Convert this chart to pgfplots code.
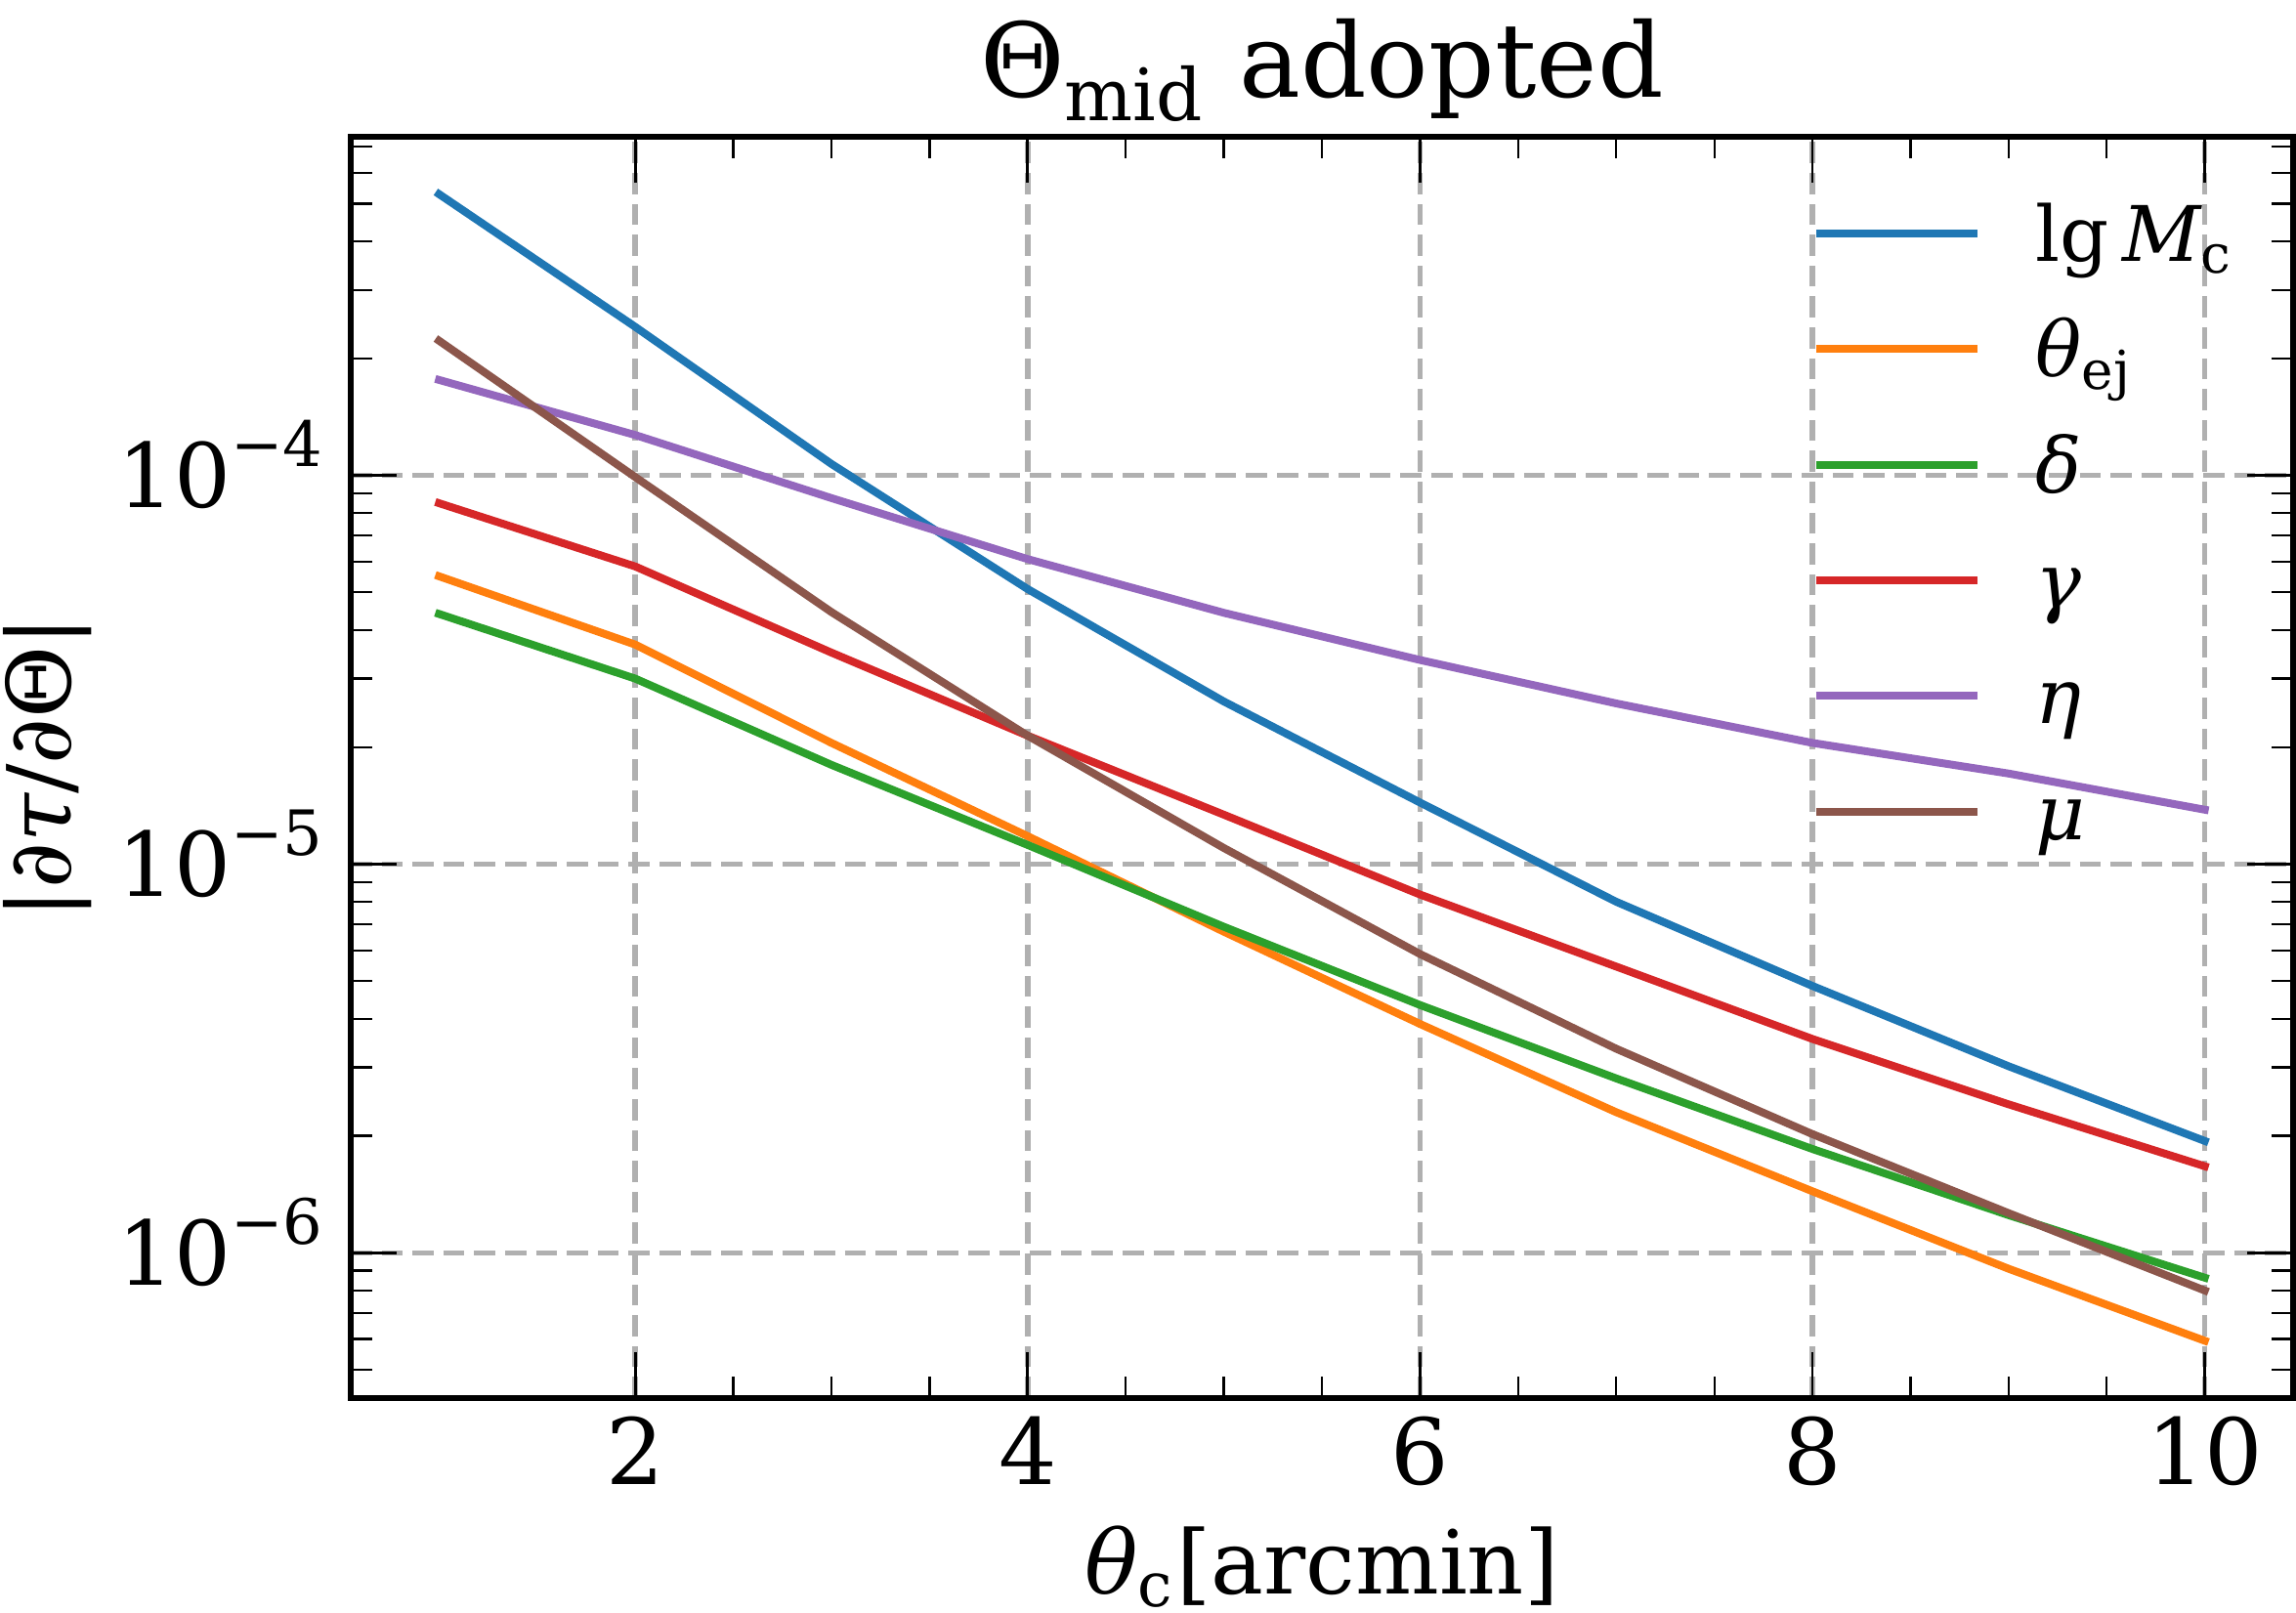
\documentclass[border=0pt]{standalone}
\usepackage{fontspec}
\setmainfont{DejaVu Serif}
\usepackage{amsmath}
\usepackage{pgfplots}
\pgfplotsset{compat=1.18}
\definecolor{c0}{HTML}{1F77B4}
\definecolor{c1}{HTML}{FF7F0E}
\definecolor{c2}{HTML}{2CA02C}
\definecolor{c3}{HTML}{D62728}
\definecolor{c4}{HTML}{9467BD}
\definecolor{c5}{HTML}{8C564B}
\definecolor{gridgray}{HTML}{B0B0B0}
\newcommand{\gi}[1]{\text{\itshape #1}}
\begin{document}
\begin{tikzpicture}
\begin{axis}[
  at={(0pt,0pt)}, anchor=south west,
  scale only axis, width=248.5pt, height=161.375pt,
  ymode=log,
  xmin=0.55, xmax=10.45, ymin=4.23e-7, ymax=7.43e-4,
  xtick={2,4,6,8,10}, minor x tick num=3,
  ytick={1e-6,1e-5,1e-4},
  yticklabels={$\text{10}^{\text{−6}}$,$\text{10}^{\text{−5}}$,$\text{10}^{\text{−4}}$},
  minor ytick={5e-7,6e-7,7e-7,8e-7,9e-7,2e-6,3e-6,4e-6,5e-6,6e-6,7e-6,8e-6,9e-6,2e-5,3e-5,4e-5,5e-5,6e-5,7e-5,8e-5,9e-5,2e-4,3e-4,4e-4,5e-4,6e-4,7e-4},
  tick pos=both, xticklabel pos=lower, yticklabel pos=left,
  tick align=inside,
  major tick length=5.9pt, minor tick length=2.75pt,
  major tick style={line width=0.35pt, black},
  minor tick style={line width=0.28pt, black},
  axis line style={line width=0.75pt, black},
  xmajorgrids, ymajorgrids,
  major grid style={line width=0.7pt, color=gridgray, dash pattern=on 2.7pt off 1.25pt},
  /pgf/number format/assume math mode=true,
  xticklabel style={font=\fontsize{11.7}{14}\selectfont, anchor=base, yshift=-11.1pt},
  yticklabel style={font=\fontsize{11.4}{14}\selectfont, anchor=base east, inner sep=0pt, xshift=-2.9pt, yshift=-4.15pt},
  title={$\text{Θ}_{\text{mid}}$ adopted},
  title style={at={(axis description cs:0.5,1)}, anchor=base, yshift=-1pt, font=\fontsize{13.2}{16}\selectfont},
  xlabel={$\gi{θ}_{\text{c}}$[arcmin]},
  xlabel style={at={(axis description cs:0.5,0)}, anchor=base, yshift=-25pt, font=\fontsize{11.3}{14}\selectfont},
  ylabel={|{\itshape ∂τ}/{\itshape ∂}Θ|},
  ylabel style={at={(axis description cs:-0.156,0.5)}, anchor=center, font=\fontsize{11.3}{14}\selectfont},
  legend style={draw=none, fill=none, inner sep=0pt, outer sep=0pt,
    at={(axis description cs:0.7525,0.951)}, anchor=north west,
    row sep=3.8pt, font=\fontsize{9.8}{11}\selectfont,
    nodes={inner sep=0pt, text height=8pt, text depth=3pt},
    cells={anchor=west},
    /tikz/every odd column/.append style={column sep=7pt}},
  legend image code/.code={\draw[#1, line cap=butt] (0pt,1.06pt) -- (20.6pt,1.06pt);},
  every axis plot/.append style={line width=1pt, line join=round, line cap=rect},
]
\addplot[c0] coordinates {(1,5.29e-4) (2,2.41e-4) (3,1.07e-4) (4,5.1e-5) (5,2.62e-5) (6,1.44e-5) (7,8.0e-6) (8,4.86e-6) (9,3.02e-6) (10,1.94e-6)};
\addlegendentry{$\text{lg}\,\gi{M}_{\text{c}}$}
\addplot[c1] coordinates {(1,5.50e-5) (2,3.67e-5) (3,2.05e-5) (4,1.18e-5) (5,6.7e-6) (6,3.88e-6) (7,2.30e-6) (8,1.44e-6) (9,9.1e-7) (10,5.94e-7)};
\addlegendentry{$\gi{θ}_{\text{ej}}$}
\addplot[c2] coordinates {(1,4.40e-5) (2,3.0e-5) (3,1.80e-5) (4,1.12e-5) (5,6.9e-6) (6,4.34e-6) (7,2.81e-6) (8,1.85e-6) (9,1.25e-6) (10,8.63e-7)};
\addlegendentry{\itshape δ}
\addplot[c3] coordinates {(1,8.48e-5) (2,5.83e-5) (3,3.50e-5) (4,2.14e-5) (5,1.34e-5) (6,8.35e-6) (7,5.45e-6) (8,3.55e-6) (9,2.41e-6) (10,1.67e-6)};
\addlegendentry{\itshape γ}
\addplot[c4] coordinates {(1,1.76e-4) (2,1.27e-4) (3,8.74e-5) (4,6.09e-5) (5,4.43e-5) (6,3.35e-5) (7,2.59e-5) (8,2.05e-5) (9,1.71e-5) (10,1.38e-5)};
\addlegendentry{\itshape η}
\addplot[c5] coordinates {(1,2.22e-4) (2,9.9e-5) (3,4.45e-5) (4,2.14e-5) (5,1.10e-5) (6,5.87e-6) (7,3.35e-6) (8,2.02e-6) (9,1.265e-6) (10,8.0e-7)};
\addlegendentry{\itshape μ}
\end{axis}
\pgfresetboundingbox
\useasboundingbox (-44.875pt,-27.5pt) rectangle (248.875pt,178.875pt);
\end{tikzpicture}
\end{document}
